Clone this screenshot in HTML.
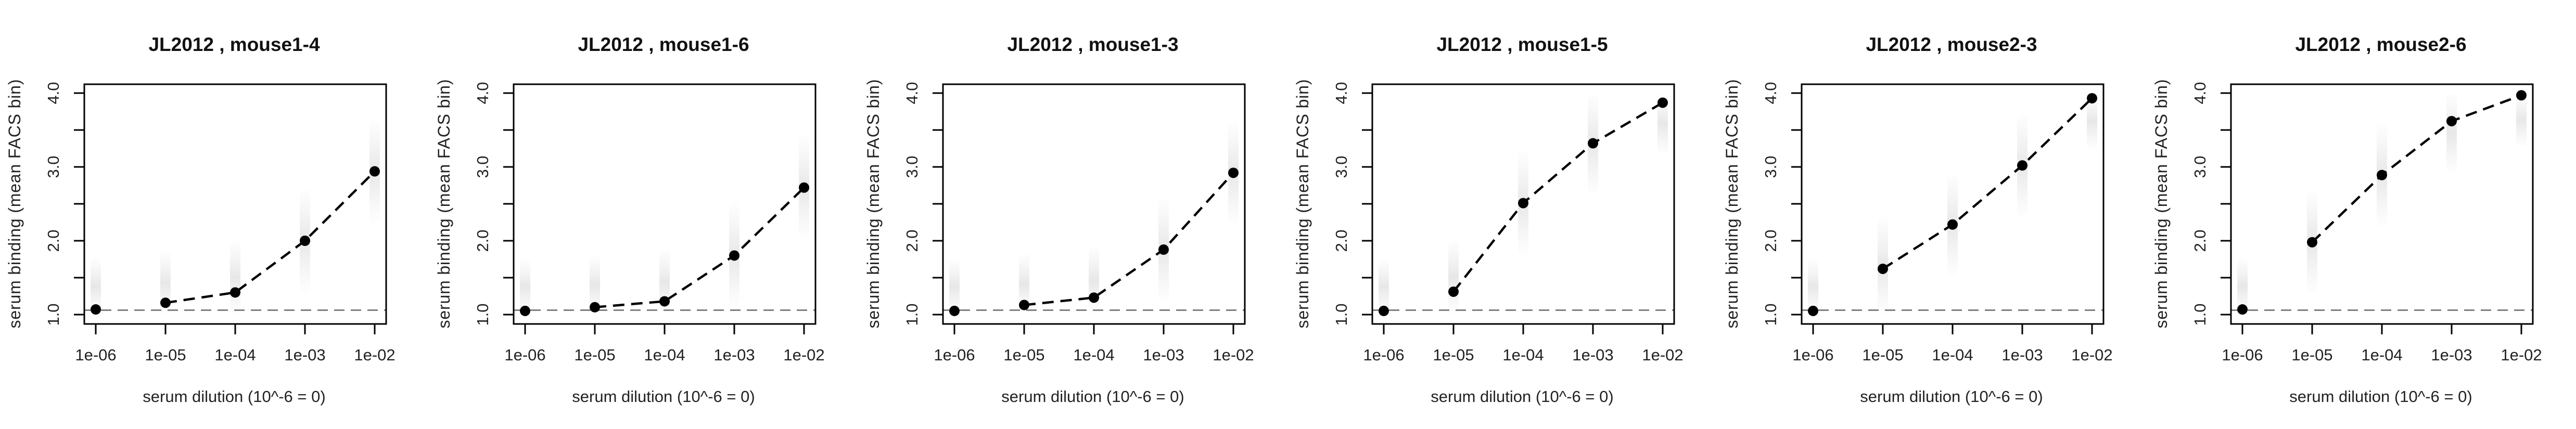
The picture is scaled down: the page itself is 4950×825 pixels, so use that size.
<!DOCTYPE html>
<html><head><meta charset="utf-8"><style>
html,body{margin:0;padding:0;background:#fff;}
svg{display:block;font-family:"Liberation Sans",sans-serif;}
</style></head><body>
<svg id="chart" width="4950" height="825" viewBox="0 0 4950 825" xmlns="http://www.w3.org/2000/svg">
<defs>
<linearGradient id="smear" x1="0" y1="0" x2="0" y2="1">
<stop offset="0" stop-color="#ccc" stop-opacity="0.02"/>
<stop offset="0.5" stop-color="#bbb" stop-opacity="0.35"/>
<stop offset="1" stop-color="#ccc" stop-opacity="0.02"/>
</linearGradient>
</defs>
</svg>
<script>
const panelTitles = ["JL2012 , mouse1-4","JL2012 , mouse1-6","JL2012 , mouse1-3","JL2012 , mouse1-5","JL2012 , mouse2-3","JL2012 , mouse2-6"];
const xTickLabels = ["1e-06","1e-05","1e-04","1e-03","1e-02"];
const yTickValues = [1.0,1.5,2.0,2.5,3.0,3.5,4.0];
const yTickLabels = ["1.0","","2.0","","3.0","","4.0"];
const refLine = 1.06;
const means1 = [1.07,1.16,1.30,2.00,2.94];
const means2 = [1.05,1.10,1.18,1.80,2.72];
const means3 = [1.05,1.13,1.23,1.88,2.92];
const means4 = [1.05,1.31,2.51,3.32,3.87];
const means5 = [1.05,1.62,2.22,3.02,3.93];
const means6 = [1.07,1.98,2.89,3.62,3.97];
const allMeans = [means1,means2,means3,means4,means5,means6];

const svg = document.getElementById('chart');
const NS = 'http://www.w3.org/2000/svg';
function mk(tag, attrs, parent){const e=document.createElementNS(NS,tag);for(const k in attrs)e.setAttribute(k,attrs[k]);(parent||svg).appendChild(e);return e;}
const L=162,R=742,T=162,B=623;
function xs(i){return 184 + i*134;}
function ys(v){return 605 - (v-1)*142;}

allMeans.forEach((m,p)=>{
  const g = mk('g',{transform:`translate(${p*825},0)`});
  
  
  const t = mk('text',{x:450,y:98,'text-anchor':'middle','font-size':37,'font-weight':'bold',fill:'#111'},g);
  t.textContent = panelTitles[p];
  
  
  m.forEach((v,i)=>{
    const lo=Math.max(1,v-0.7), hi=Math.min(4,v+0.7);
    const r = mk('rect',{x:xs(i)-10,y:ys(hi),width:20,height:ys(lo)-ys(hi),fill:'url(#smear)',rx:10},g);
    
    
  });
  const ref = mk('line',{x1:L,x2:R,y1:ys(refLine),y2:ys(refLine),stroke:'#808080','stroke-width':3,'stroke-dasharray':'20 12'},g);
  
  
  let d='';
  for(let i=1;i<m.length;i++) d += (i===1?'M':'L')+xs(i)+' '+ys(m[i])+' ';
  const path = mk('path',{d:d,fill:'none',stroke:'#000','stroke-width':4.5,'stroke-dasharray':'22 13'},g);
  
  
  m.forEach((v,i)=>{
    const c = mk('circle',{cx:xs(i),cy:ys(v),r:10,fill:'#000'},g);
    
    
  });
  const box = mk('rect',{x:L,y:T,width:R-L,height:B-T,fill:'none',stroke:'#000','stroke-width':3},g);
  
  
  xTickLabels.forEach((lab,i)=>{
    const tk = mk('line',{x1:xs(i),x2:xs(i),y1:B,y2:B+20,stroke:'#000','stroke-width':3},g);
    
    
    const tl = mk('text',{x:xs(i),y:693,'text-anchor':'middle','font-size':31,fill:'#222'},g);
    tl.textContent = lab;
    
    
  });
  yTickValues.forEach((v,i)=>{
    const tk = mk('line',{x1:L-20,x2:L,y1:ys(v),y2:ys(v),stroke:'#000','stroke-width':3},g);
    
    
    if(yTickLabels[i]){
      const tl = mk('text',{x:0,y:0,transform:`translate(113,${ys(v)}) rotate(-90)`,'text-anchor':'middle','font-size':31,fill:'#222'},g);
      tl.textContent = yTickLabels[i];
      
      
    }
  });
  const xt = mk('text',{x:450,y:773,'text-anchor':'middle','font-size':31,fill:'#222'},g);
  xt.textContent='serum dilution (10^-6 = 0)';
  
  
  const yt = mk('text',{x:0,y:0,transform:'translate(39,392) rotate(-90)','text-anchor':'middle','font-size':32,textLength:479,lengthAdjust:'spacing',fill:'#222'},g);
  yt.textContent='serum binding (mean FACS bin)';
  
  
});
</script>
</body></html>
